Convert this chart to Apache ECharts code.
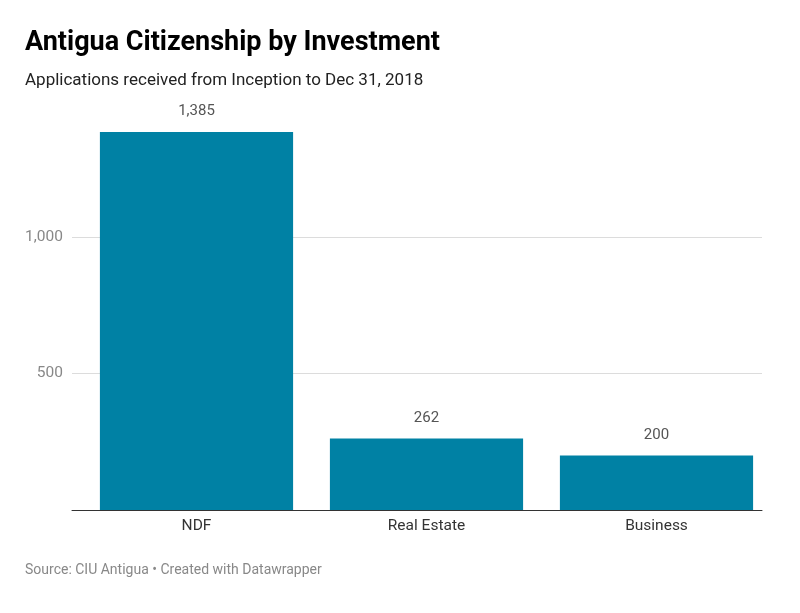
<!DOCTYPE html>
<html>
<head>
<meta charset="utf-8">
<script src="https://cdn.jsdelivr.net/npm/echarts@6/dist/echarts.min.js"></script>
<style>
    html, body { margin: 0; padding: 0; background: #fff; }
    #chart { width: 800px; height: 613px; }
</style>
</head>
<body>
<div id="chart"></div>
<script>
// 数据
var categories = ['NDF', 'Real Estate', 'Business'];
var applications = [1385, 262, 200];
var yTicks = [0, 500, 1000, 1500];

var myChart = echarts.init(document.getElementById('chart'));

function fmt(v) {
    return v.toLocaleString('en-US');
}

var option = {
    animation: false,
    textStyle: { fontFamily: 'Roboto' },
    title: [
        {
            text: 'Antigua Citizenship by Investment',
            left: 25,
            top: 30,
            padding: 0,
            textStyle: { fontSize: 27, fontWeight: 'bold', color: '#000', fontFamily: 'Roboto' }
        },
        {
            text: 'Applications received from Inception to Dec 31, 2018',
            left: 25,
            top: 72,
            padding: 0,
            textStyle: { fontSize: 17, fontWeight: 'normal', color: '#222', fontFamily: 'Roboto' }
        },
        {
            text: 'Source: CIU Antigua • Created with Datawrapper',
            left: 25,
            top: 563,
            padding: 0,
            textStyle: { fontSize: 14, fontWeight: 'normal', color: '#888', fontFamily: 'Roboto' }
        }
    ],
    // grid 0: 网格线和轴, grid 1: 柱子
    grid: [
        { left: 72, right: 38, top: 100.5, bottom: 103 },
        { left: 81.5, right: 28.5, top: 100.5, bottom: 103 }
    ],
    xAxis: [
        {
            type: 'category',
            gridIndex: 0,
            data: categories,
            axisLine: { show: true, lineStyle: { color: '#333', width: 1 } },
            axisTick: { show: false },
            axisLabel: { show: false }
        },
        {
            type: 'category',
            gridIndex: 1,
            data: categories,
            axisLine: { show: false },
            axisTick: { show: false },
            axisLabel: { color: '#333', fontSize: 15.5, margin: 8, fontFamily: 'Roboto' }
        }
    ],
    yAxis: [
        {
            type: 'value',
            gridIndex: 0,
            min: yTicks[0],
            max: yTicks[yTicks.length - 1],
            interval: 500,
            axisLine: { show: false },
            axisTick: { show: false },
            axisLabel: {
                color: '#888',
                fontSize: 15.5,
                margin: 9,
                showMinLabel: false,
                showMaxLabel: false,
                fontFamily: 'Roboto',
                formatter: function (v) { return fmt(v); }
            },
            splitLine: { show: true, showMinLine: false, showMaxLine: false, lineStyle: { color: '#dcdcdc', width: 1 } }
        },
        {
            type: 'value',
            gridIndex: 1,
            min: yTicks[0],
            max: yTicks[yTicks.length - 1],
            interval: 500,
            show: false,
            splitLine: { show: false }
        }
    ],
    series: [
        {
            name: 'Applications',
            type: 'bar',
            xAxisIndex: 1,
            yAxisIndex: 1,
            data: applications,
            barCategoryGap: '16%',
            itemStyle: { color: '#0081a4' },
            label: {
                show: true,
                position: 'top',
                distance: 13,
                color: '#555',
                fontSize: 15,
                fontFamily: 'Roboto',
                formatter: function (p) { return fmt(p.value); }
            }
        }
    ]
};

myChart.setOption(option);
</script>
</body>
</html>
